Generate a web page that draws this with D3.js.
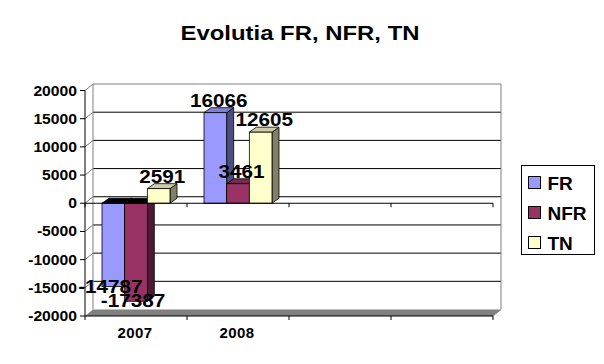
<!DOCTYPE html>
<html lang="en">
  <head>
    <meta charset="UTF-8" />
    <title>Evolutia FR, NFR, TN</title>
    <style>
      body { margin: 0; background: #fff; }
      svg { display: block; font-family: "Liberation Sans", Arial, sans-serif; }
    </style>
  </head>
  <body>
    <div id="chart"></div>
    <script src="https://d3js.org/d3.v7.min.js"></script>
    <script>
      // data
      const categories = ["2007", "2008", "", ""];
      const seriesNames = ["FR", "NFR", "TN"];
      const frValues = [-14787, 16066];
      const nfrValues = [-17387, 3461];
      const tnValues = [2591, 12605];
      const yTicks = [-20000, -15000, -10000, -5000, 0, 5000, 10000, 15000, 20000];

      const width = 604, height = 364;
      const colors = {
        FR:  { front: "#9999ff", side: "#4d4d80", top: "#8080d6" },
        NFR: { front: "#993366", side: "#4d1a33", top: "#7a2952" },
        TN:  { front: "#ffffcc", side: "#808066", top: "#cdcca6" }
      };

      // wall depth and bar depth (oblique offsets)
      const wdx = 8, wdy = 6.5;
      const bdx = 7, bdy = 5;

      const svg = d3.select("#chart").append("svg")
          .attr("width", width)
          .attr("height", height);

      const y = d3.scaleLinear([-20000, 20000], [316, 90.5]);
      const x = d3.scaleBand(d3.range(categories.length), [85, 493]);
      const xs = d3.scaleBand(seriesNames, [0, x.bandwidth()]).paddingOuter(0.75);

      const data = seriesNames.map((s, si) => ({
        name: s,
        values: [frValues, nfrValues, tnValues][si]
      }));

      // title
      svg.append("text")
          .attr("x", 300)
          .attr("y", 40)
          .attr("text-anchor", "middle")
          .attr("font-weight", "bold")
          .attr("font-size", 20)
          .attr("textLength", 239)
          .attr("lengthAdjust", "spacingAndGlyphs")
          .text("Evolutia FR, NFR, TN");

      const x0 = x.range()[0], x1 = x.range()[1];
      const yTop = y(20000), yBot = y(-20000);

      // floor
      svg.append("polygon")
          .attr("points", [[x0, yBot], [x0 + wdx, yBot - wdy], [x1 + wdx, yBot - wdy], [x1, yBot]].join(" "))
          .attr("fill", "#808080");

      // back wall gridlines
      svg.append("g")
        .selectAll("line")
        .data(yTicks.filter(d => d > -20000 && d < 20000))
        .join("line")
          .attr("x1", x0 + wdx).attr("x2", x1 + wdx)
          .attr("y1", d => y(d) - wdy).attr("y2", d => y(d) - wdy)
          .attr("stroke", "#000");

      // side wall gridlines
      svg.append("g")
        .selectAll("line")
        .data(yTicks.filter(d => d > -20000))
        .join("line")
          .attr("x1", x0).attr("x2", x0 + wdx)
          .attr("y1", d => y(d)).attr("y2", d => y(d) - wdy)
          .attr("stroke", "#808080");

      // back wall outline
      svg.append("path")
          .attr("d", `M${x0 + wdx},${yBot - wdy}V${yTop - wdy}H${x1 + wdx}V${yBot - wdy}L${x1},${yBot}`)
          .attr("fill", "none")
          .attr("stroke", "#808080");

      // bars
      const bars = svg.append("g").attr("stroke", "#000").attr("stroke-width", 0.8);
      categories.forEach((c, ci) => {
        data.forEach(s => {
          const v = s.values[ci];
          if (v === undefined) return;
          const bx0 = x(ci) + xs(s.name), bx1 = bx0 + xs.bandwidth();
          const top = Math.min(y(v), y(0)), bot = Math.max(y(v), y(0));
          const col = colors[s.name];
          bars.append("polygon")
              .attr("points", [[bx1, top], [bx1 + bdx, top - bdy], [bx1 + bdx, bot - bdy], [bx1, bot]].join(" "))
              .attr("fill", col.side);
          bars.append("polygon")
              .attr("points", [[bx0, top], [bx0 + bdx, top - bdy], [bx1 + bdx, top - bdy], [bx1, top]].join(" "))
              .attr("fill", v >= 0 ? col.top : "#000");
          bars.append("rect")
              .attr("x", bx0).attr("y", top)
              .attr("width", bx1 - bx0).attr("height", bot - top)
              .attr("fill", col.front);
        });
      });

      // value axis
      const yAxis = svg.append("g");
      yAxis.append("line")
          .attr("x1", x0).attr("x2", x0)
          .attr("y1", yTop).attr("y2", yBot)
          .attr("stroke", "#000");
      yAxis.selectAll("line.tick")
        .data(yTicks)
        .join("line")
          .attr("class", "tick")
          .attr("x1", x0 - 5).attr("x2", x0)
          .attr("y1", d => y(d)).attr("y2", d => y(d))
          .attr("stroke", "#000");
      yAxis.selectAll("text")
        .data(yTicks)
        .join("text")
          .attr("transform", d => `translate(77,${y(d)}) scale(1.12,1)`)
          .attr("dy", "0.36em")
          .attr("text-anchor", "end")
          .attr("font-weight", "bold")
          .attr("font-size", 14)
          .text(d => d);

      // category axis at zero and along the floor front
      [0, -20000].forEach(v => {
        const g = svg.append("g");
        g.append("line")
            .attr("x1", x0).attr("x2", x1)
            .attr("y1", y(v)).attr("y2", y(v))
            .attr("stroke", "#000");
        g.selectAll("line.tick")
          .data(d3.range(categories.length + 1))
          .join("line")
            .attr("class", "tick")
            .attr("x1", i => x0 + i * x.step()).attr("x2", i => x0 + i * x.step())
            .attr("y1", y(v)).attr("y2", y(v) + 4)
            .attr("stroke", "#000");
      });

      svg.append("g")
        .selectAll("text")
        .data(categories)
        .join("text")
          .attr("x", (d, i) => x(i) + x.bandwidth() / 2 - 1)
          .attr("y", 338)
          .attr("text-anchor", "middle")
          .attr("font-weight", "bold")
          .attr("font-size", 15)
          .attr("letter-spacing", 0.4)
          .text(d => d);

      // data labels
      const labels = svg.append("g")
          .attr("font-size", 18)
          .attr("font-weight", "bold")
          .attr("text-anchor", "middle");
      data.forEach(s => {
        s.values.forEach((v, ci) => {
          const cx = x(ci) + xs(s.name) + xs.bandwidth() / 2;
          const lx = v >= 0 ? cx + bdx / 2 : cx - 3;
          const ly = v >= 0 ? y(v) - bdy - 1 : y(v) + 6;
          labels.append("text")
              .attr("transform", `translate(${lx},${ly}) scale(1.15,1)`)
              .text(v);
        });
      });

      // legend
      const legend = svg.append("g");
      legend.append("rect")
          .attr("x", 521.5).attr("y", 165.5)
          .attr("width", 73).attr("height", 89)
          .attr("fill", "#fff")
          .attr("stroke", "#000");
      const item = legend.selectAll("g")
        .data(seriesNames)
        .join("g")
          .attr("transform", (d, i) => `translate(528.5,${176.5 + i * 30})`);
      item.append("rect")
          .attr("width", 12).attr("height", 12)
          .attr("fill", d => colors[d].front)
          .attr("stroke", "#000");
      item.append("text")
          .attr("x", 19)
          .attr("y", 13)
          .attr("font-weight", "bold")
          .attr("font-size", 19)
          .text(d => d);
    </script>
  </body>
</html>
